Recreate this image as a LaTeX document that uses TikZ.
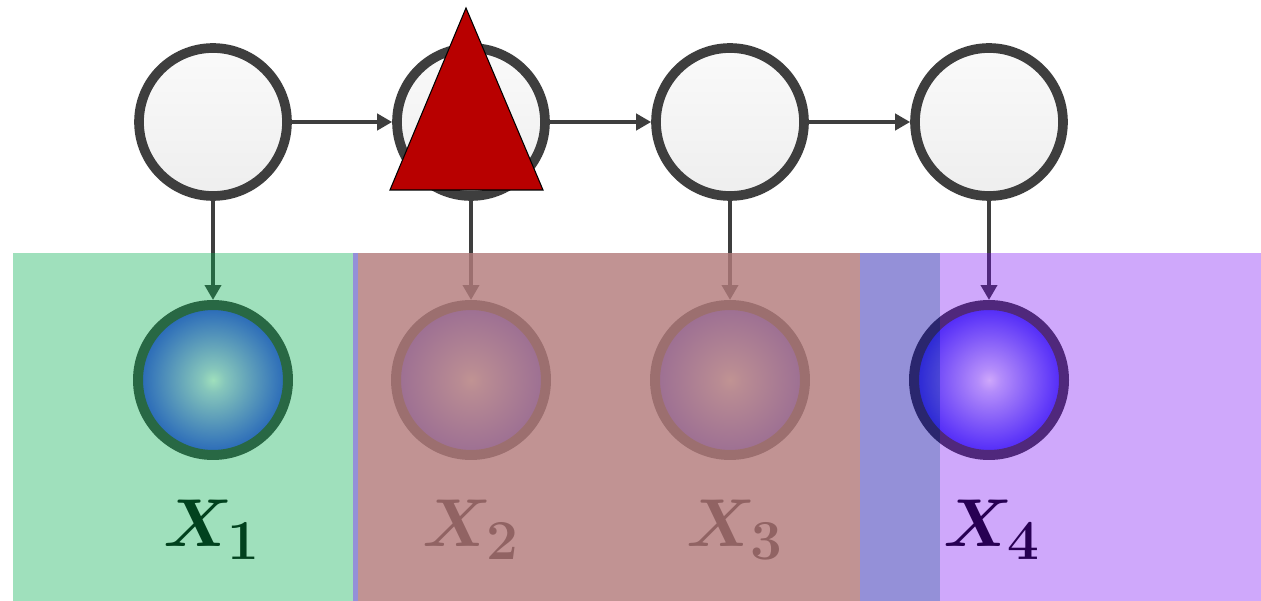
\documentclass[tikz,border=0pt]{standalone}
\usepackage{amsmath,bm,graphicx}
\usetikzlibrary{arrows.meta}
\definecolor{hstroke}{RGB}{62,62,62}
\definecolor{topfillA}{RGB}{250,250,250}
\definecolor{topfillB}{RGB}{238,238,238}
\definecolor{ballblue}{RGB}{22,22,250}
\definecolor{greenov}{RGB}{5,174,79}
\definecolor{pinkov}{RGB}{179,123,123}
\definecolor{blueov}{RGB}{18,9,169}
\definecolor{lavov}{RGB}{115,0,244}
\definecolor{trired}{RGB}{184,0,0}
\pgfdeclareradialshading{ballshade}{\pgfpoint{0bp}{0bp}}{color(0bp)=(white); color(4bp)=(white!82!ballblue); color(30bp)=(ballblue); color(72bp)=(ballblue)}
\newcommand{\varlab}[1]{\scalebox{1.55}{$\bm{X}_{\mathbf{#1}}$}}
\tikzset{
  hiddennode/.style={circle, draw=hstroke, line width=5.5pt, minimum size=2.96cm, inner sep=0pt, top color=topfillA, bottom color=topfillB},
  obsnode/.style={circle, draw=hstroke, line width=5.7pt, minimum size=3.0cm, inner sep=0pt, shading=ballshade},
  edgearrow/.style={draw=hstroke, line width=2.2pt, -{Triangle[length=0.3cm,width=0.32cm]}},
  varlabel/.style={text=black, font=\fontsize{24.88}{26}\selectfont, inner sep=0pt},
}
\begin{document}
\begin{tikzpicture}[x=0.02cm,y=-0.02cm]
\useasboundingbox[fill=white] (0,0) rectangle (1261,601);
% hidden chain
\node[hiddennode] (h1) at (213,122) {};
\node[hiddennode] (h2) at (471,122) {};
\node[hiddennode] (h3) at (730,122) {};
\node[hiddennode] (h4) at (989,122) {};
% observed
\node[obsnode] (o1) at (213,380) {};
\node[obsnode] (o2) at (471,380) {};
\node[obsnode] (o3) at (730,380) {};
\node[obsnode] (o4) at (989,380) {};
% edges
\draw[edgearrow] (h1) -- (h2);
\draw[edgearrow] (h2) -- (h3);
\draw[edgearrow] (h3) -- (h4);
\draw[edgearrow] (h1) -- (o1);
\draw[edgearrow] (h2) -- (o2);
\draw[edgearrow] (h3) -- (o3);
\draw[edgearrow] (h4) -- (o4);
% labels
\node[varlabel] (l1) at (212,530) {\varlab{1}};
\node[varlabel] (l2) at (471,530) {\varlab{2}};
\node[varlabel] (l3) at (735,530) {\varlab{3}};
\node[varlabel] (l4) at (992,530) {\varlab{4}};
% coloured overlays
\fill[greenov, opacity=0.38] (13,253) rectangle (353,601);
\fill[blueov, opacity=0.45] (353,253) rectangle (358,601);
\fill[pinkov, opacity=0.81] (358,253) rectangle (860,601);
\fill[blueov, opacity=0.45] (860,253) rectangle (940,601);
\fill[lavov, opacity=0.34] (940,253) rectangle (1261,601);
% red triangle
\coordinate (ta) at (466,8);
\coordinate (tl) at (390,190);
\coordinate (tr) at (543,190);
\filldraw[fill=trired, draw=black, line width=0.6pt] (ta) -- (tr) -- (tl) -- cycle;
\end{tikzpicture}
\end{document}
